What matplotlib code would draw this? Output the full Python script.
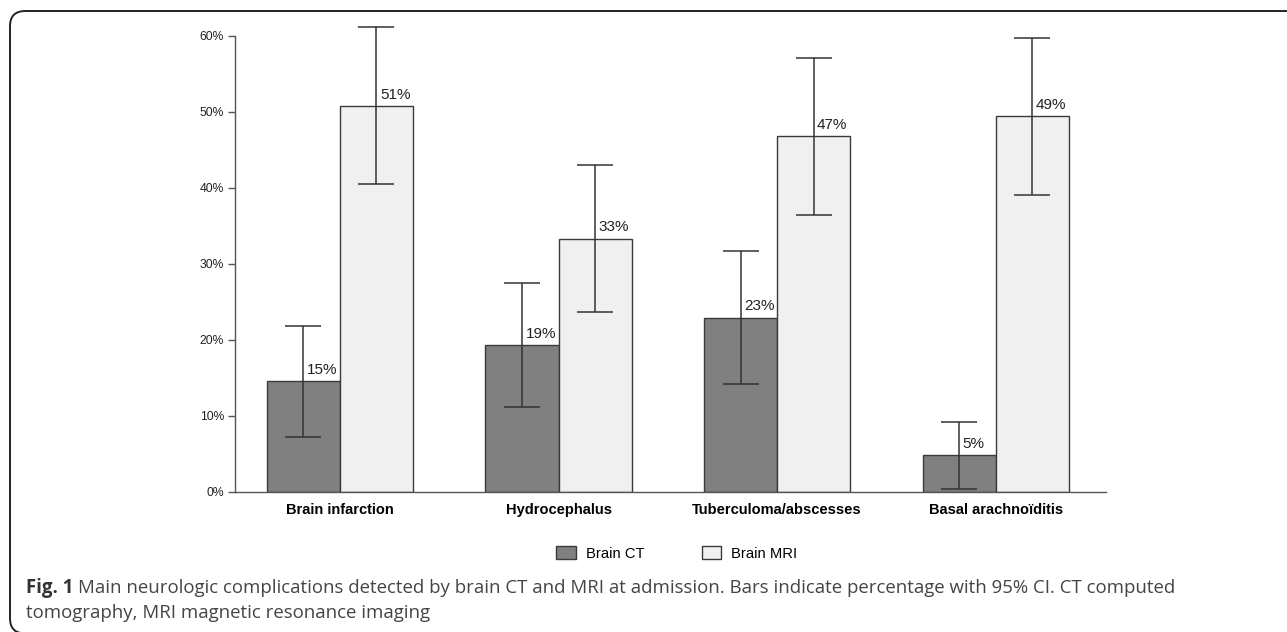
import matplotlib
matplotlib.use('Agg')
import matplotlib.pyplot as plt
from matplotlib.patches import Patch, FancyBboxPatch
import numpy as np

plt.rcParams['font.family'] = ['Liberation Sans', 'DejaVu Sans']

categories = ['Brain infarction', 'Hydrocephalus', 'Tuberculoma/abscesses', 'Basal arachnoïditis']
ct_values = [14.6, 19.3, 22.9, 4.8]
ct_low = [7.2, 11.1, 14.2, 0.4]
ct_high = [21.8, 27.5, 31.7, 9.2]
mri_values = [50.7, 33.3, 46.8, 49.4]
mri_low = [40.5, 23.6, 36.4, 39.0]
mri_high = [61.1, 43.0, 57.1, 59.7]
ct_labels = ['15%', '19%', '23%', '5%']
mri_labels = ['51%', '33%', '47%', '49%']
yticks = [0, 10, 20, 30, 40, 50, 60]

fig = plt.figure(figsize=(12.87, 6.32), dpi=100)
ax = fig.add_axes([0.1826, 0.222, 0.6768, 0.7215])

x = np.arange(len(categories))
w = 0.334
edge = '#3a3a3a'

ax.bar(x - w / 2, ct_values, w, color='#808080', edgecolor=edge, linewidth=1)
ax.bar(x + w / 2, mri_values, w, color='#f0f0f0', edgecolor=edge, linewidth=1)

for xs, vals, lo, hi in [(x - w / 2, ct_values, ct_low, ct_high),
                         (x + w / 2, mri_values, mri_low, mri_high)]:
    vals = np.array(vals)
    yerr = [vals - np.array(lo), np.array(hi) - vals]
    ax.errorbar(xs, vals, yerr=yerr, fmt='none', ecolor='#333333',
                elinewidth=1.1, capsize=13.3, capthick=1.1, clip_on=False)

for xs, vals, labs in [(x - w / 2, ct_values, ct_labels), (x + w / 2, mri_values, mri_labels)]:
    for xi, v, lab in zip(xs, vals, labs):
        ax.annotate(lab, (xi, v), xytext=(2.5, 3), textcoords='offset points',
                    ha='left', va='bottom', fontsize=11, color='#222222')

ax.set_xlim(-0.48, 3.505)
ax.set_ylim(0, 60)
ax.set_yticks(yticks)
ax.set_yticklabels([f'{t}%' for t in yticks], fontsize=8.7, color='#222222')
ax.set_xticks(x)
ax.set_xticklabels(categories, fontsize=10.5, fontweight='bold')
ax.tick_params(axis='x', length=0, pad=8)
ax.tick_params(axis='y', length=5, width=1, color='#555555', pad=3)
for s in ['top', 'right']:
    ax.spines[s].set_visible(False)
for s in ['left', 'bottom']:
    ax.spines[s].set_color('#555555')
    ax.spines[s].set_linewidth(1)

handles = [Patch(facecolor='#808080', edgecolor=edge, label='Brain CT'),
           Patch(facecolor='#f0f0f0', edgecolor=edge, label='Brain MRI')]
fig.legend(handles=handles, loc='center', bbox_to_anchor=(0.526, 0.124), ncol=2,
           frameon=False, fontsize=10.6, handlelength=1.3, handleheight=0.95,
           handletextpad=0.7, columnspacing=3.9)

# rounded frame around the figure, cut off on the right and bottom
frame = FancyBboxPatch((10 / 1287, -1.5 / 632), 1.05, 1 - 9.5 / 632,
                       boxstyle='round,pad=0,rounding_size=0.012',
                       transform=fig.transFigure, fill=False,
                       edgecolor='#222222', linewidth=1.4, mutation_aspect=2.0)
fig.patches.append(frame)

# caption
cap_font = ['Open Sans', 'DejaVu Sans']
cap_size = 13.4
t1 = fig.text(26 / 1287, 1 - 593 / 632, 'Fig. 1', fontsize=cap_size, fontweight='bold',
              family=cap_font, color='#333333', va='baseline')
fig.canvas.draw()
bb = t1.get_window_extent(fig.canvas.get_renderer())
fig.text(bb.x1 / 1287 + 5 / 1287, 1 - 593 / 632,
         'Main neurologic complications detected by brain CT and MRI at admission. '
         'Bars indicate percentage with 95% CI. CT computed',
         fontsize=cap_size, family=cap_font, color='#444444', va='baseline')
fig.text(26 / 1287, 1 - 618 / 632, 'tomography, MRI magnetic resonance imaging',
         fontsize=cap_size, family=cap_font, color='#444444', va='baseline')

plt.savefig('out.png', dpi=100)
plt.close()
